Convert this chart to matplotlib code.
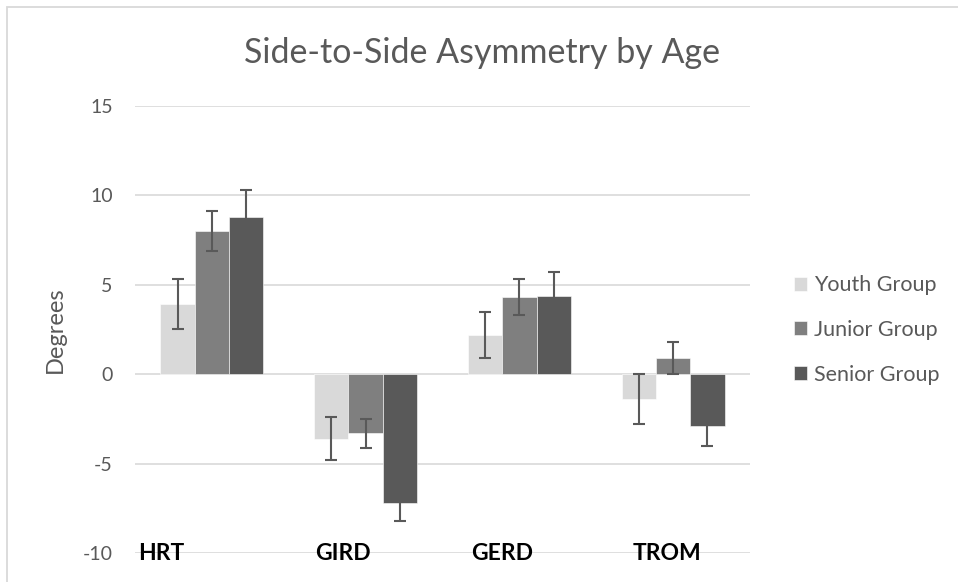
import matplotlib
matplotlib.use("Agg")
import matplotlib.pyplot as plt
from matplotlib.patches import Rectangle
import numpy as np

plt.rcParams['font.family'] = ['Lato', 'DejaVu Sans']

categories = ["HRT", "GIRD", "GERD", "TROM"]
series_names = ["Youth Group", "Junior Group", "Senior Group"]
youth = [3.9, -3.6, 2.2, -1.4]
junior = [8.0, -3.3, 4.3, 0.9]
senior = [8.8, -7.2, 4.4, -2.9]
youth_err = [1.4, 1.2, 1.3, 1.4]
junior_err = [1.1, 0.8, 1.0, 0.9]
senior_err = [1.5, 1.0, 1.3, 1.1]
yticks = [-10, -5, 0, 5, 10, 15]

colors = ["#D9D9D9", "#7F7F7F", "#595959"]
W, H = 958, 582
fig = plt.figure(figsize=(W / 100, H / 100), dpi=100)
ax = fig.add_axes([135 / W, (H - 553) / H, 615 / W, (553 - 106) / H])

x = np.arange(len(categories))
bw = 0.223
vals = [youth, junior, senior]
errs = [youth_err, junior_err, senior_err]
for i, (v, e, c, n) in enumerate(zip(vals, errs, colors, series_names)):
    ax.bar(x + (i - 1) * bw, v, width=bw, color=c, label=n, zorder=2,
           edgecolor="white", linewidth=0.4)
    ax.errorbar(x + (i - 1) * bw, v, yerr=e, fmt="none", ecolor="#595959",
                elinewidth=1.5, capsize=4.5, capthick=1.5, zorder=3)

ax.set_xlim(-0.5, len(categories) - 0.5)
ax.set_ylim(-10, 15)
ax.set_yticks(yticks)
ax.set_yticklabels([str(t) for t in yticks])
ax.yaxis.grid(True, color="#D9D9D9", linewidth=1.2, zorder=0)
ax.set_axisbelow(True)
for s in ax.spines.values():
    s.set_visible(False)
ax.tick_params(axis="y", length=0, pad=16, labelsize=14, labelcolor="#595959")
ax.set_xticks([])

ax.set_ylabel("Degrees", fontsize=17, color="#595959")
ax.yaxis.set_label_coords(-0.113, 0.5)

# category labels placed at the bottom, as in the reference
label_x = [-0.328, 0.85, 1.89, 2.96]
for lx, cat in zip(label_x, categories):
    ax.text(lx, -10, cat, ha="center", va="center", fontsize=16.5,
            fontweight="bold", color="black", zorder=4)

fig.text(482 / W, 1 - 53 / H, "Side-to-Side Asymmetry by Age", ha="center",
         va="center", fontsize=24.5, color="#595959")

leg = ax.legend(loc="center left", bbox_to_anchor=((794 - 135) / 615, (553 - 330) / 447),
                frameon=False, fontsize=15.5, handlelength=0.62, handleheight=0.62,
                handletextpad=0.3, labelspacing=1.15, borderpad=0, borderaxespad=0)
for t in leg.get_texts():
    t.set_color("#595959")

fig.patches.append(Rectangle((7 / W, -0.1), 1.2, (H - 7) / H + 0.1, transform=fig.transFigure,
                             fill=False, edgecolor="#D9D9D9", linewidth=1.3))

fig.savefig("out.png", dpi=100)
